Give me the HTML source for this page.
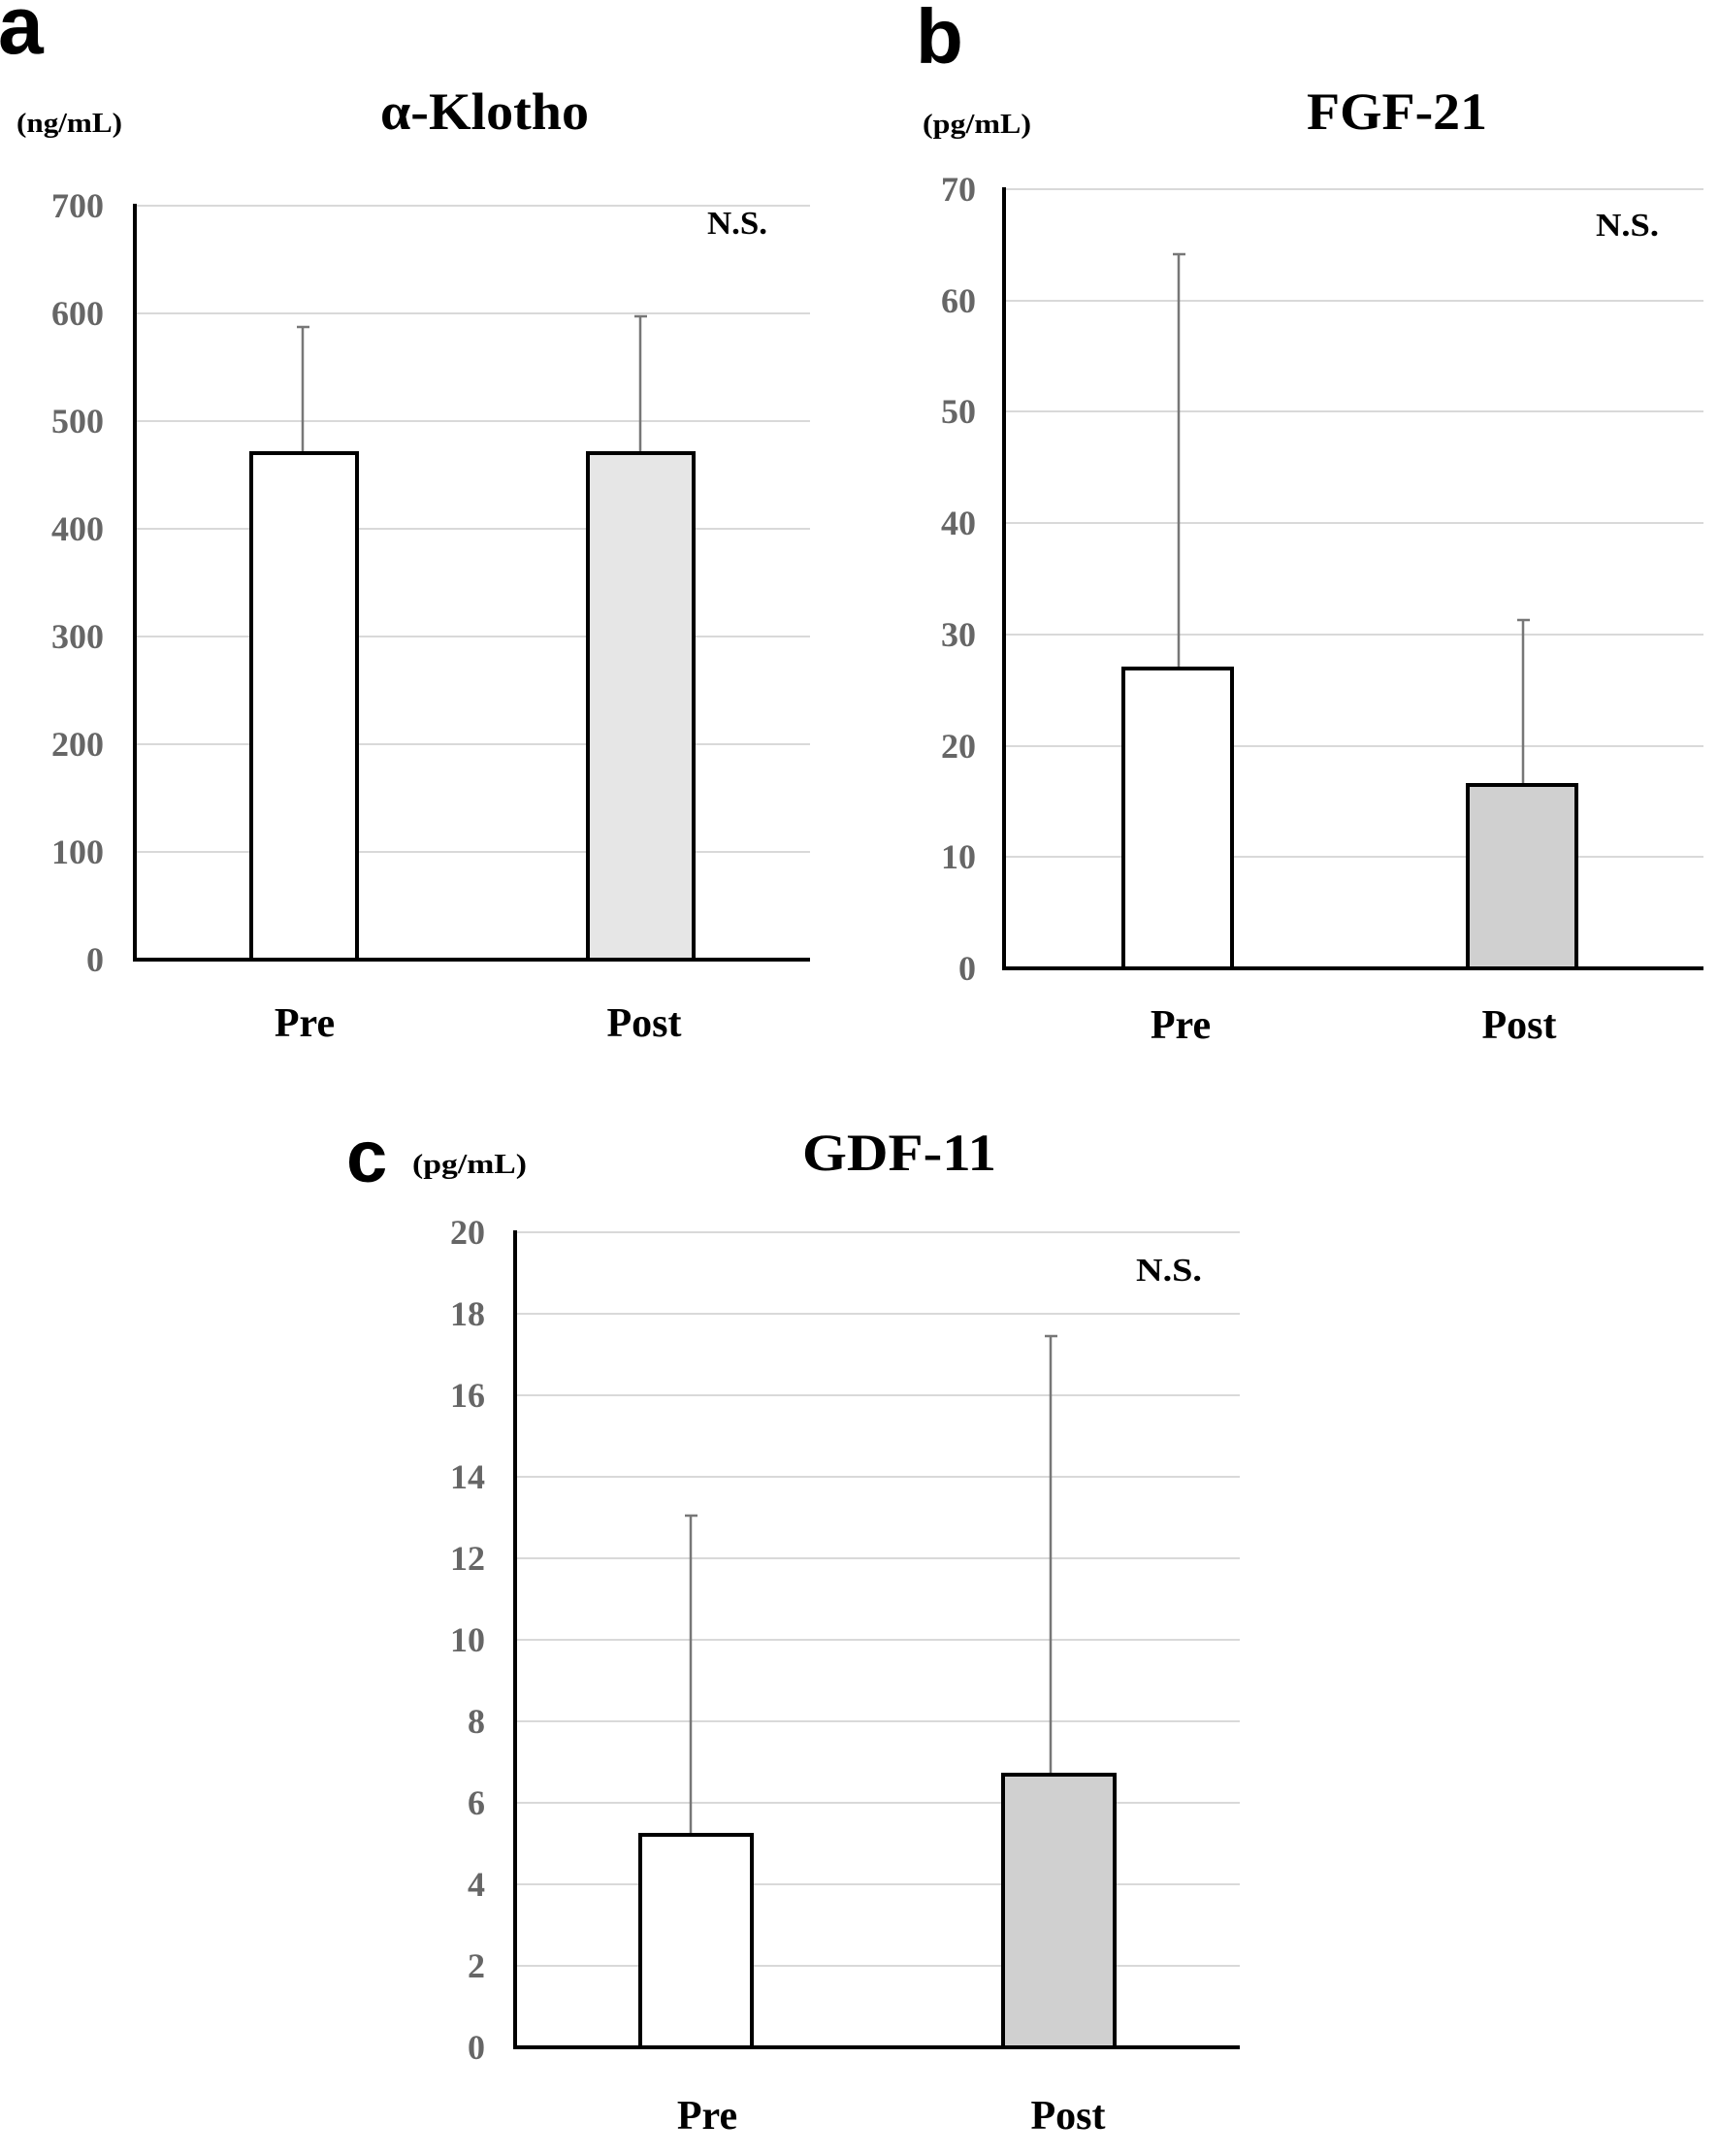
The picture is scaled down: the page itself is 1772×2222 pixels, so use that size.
<!DOCTYPE html>
<html><head><meta charset="utf-8"><style>
html,body{margin:0;padding:0;background:#fff;}
svg{display:block;}
.t{font-family:"Liberation Serif",serif;font-weight:bold;}
.tick{font-family:"Liberation Serif",serif;font-weight:bold;font-size:36px;fill:#666;text-anchor:end;}
.lab{font-family:"Liberation Sans",sans-serif;font-weight:bold;}
</style></head><body>
<svg width="1772" height="2222" viewBox="0 0 1772 2222" xmlns="http://www.w3.org/2000/svg">
<rect width="1772" height="2222" fill="#fff"/>
<!-- Panel a -->
<text class="lab" x="-2" y="55" font-size="84">a</text>
<text class="t" x="17" y="136" font-size="28" textLength="109" lengthAdjust="spacingAndGlyphs">(ng/mL)</text>
<text class="t" x="392" y="133" font-size="54" textLength="215" lengthAdjust="spacingAndGlyphs">α-Klotho</text>
<g stroke="#d9d9d9" stroke-width="2">
<line x1="139" x2="835" y1="212" y2="212"/><line x1="139" x2="835" y1="323" y2="323"/>
<line x1="139" x2="835" y1="434" y2="434"/><line x1="139" x2="835" y1="545" y2="545"/>
<line x1="139" x2="835" y1="656" y2="656"/><line x1="139" x2="835" y1="767" y2="767"/>
<line x1="139" x2="835" y1="878" y2="878"/>
</g>
<g class="tick">
<text x="107" y="224">700</text><text x="107" y="335">600</text><text x="107" y="446">500</text>
<text x="107" y="557">400</text><text x="107" y="668">300</text><text x="107" y="779">200</text>
<text x="107" y="890">100</text><text x="107" y="1001">0</text>
</g>
<g stroke="#777" stroke-width="2.5">
<line x1="312" x2="312" y1="337" y2="467"/><line x1="306" x2="319" y1="337" y2="337"/>
<line x1="660" x2="660" y1="326" y2="467"/><line x1="654" x2="667" y1="326" y2="326"/>
</g>
<rect x="259" y="467" width="109" height="522" fill="#fff" stroke="#000" stroke-width="4"/>
<rect x="606" y="467" width="109" height="522" fill="#e6e6e6" stroke="#000" stroke-width="4"/>
<polyline points="139,210 139,989 835,989" fill="none" stroke="#000" stroke-width="4"/>
<text class="t" x="729" y="241" font-size="34" textLength="62" lengthAdjust="spacingAndGlyphs">N.S.</text>
<text class="t" x="314" y="1068" font-size="42" text-anchor="middle">Pre</text>
<text class="t" x="664" y="1068" font-size="42" text-anchor="middle">Post</text>

<!-- Panel b -->
<text class="lab" x="944" y="65" font-size="80">b</text>
<text class="t" x="951" y="137" font-size="28" textLength="112" lengthAdjust="spacingAndGlyphs">(pg/mL)</text>
<text class="t" x="1347" y="133" font-size="54" textLength="186" lengthAdjust="spacingAndGlyphs">FGF-21</text>
<g stroke="#d9d9d9" stroke-width="2">
<line x1="1035" x2="1756" y1="195" y2="195"/><line x1="1035" x2="1756" y1="310" y2="310"/>
<line x1="1035" x2="1756" y1="424" y2="424"/><line x1="1035" x2="1756" y1="539" y2="539"/>
<line x1="1035" x2="1756" y1="654" y2="654"/><line x1="1035" x2="1756" y1="769" y2="769"/>
<line x1="1035" x2="1756" y1="883" y2="883"/>
</g>
<g class="tick">
<text x="1006" y="207">70</text><text x="1006" y="322">60</text><text x="1006" y="436">50</text>
<text x="1006" y="551">40</text><text x="1006" y="666">30</text><text x="1006" y="781">20</text>
<text x="1006" y="895">10</text><text x="1006" y="1010">0</text>
</g>
<g stroke="#777" stroke-width="2.5">
<line x1="1215" x2="1215" y1="262" y2="689"/><line x1="1209" x2="1222" y1="262" y2="262"/>
<line x1="1570" x2="1570" y1="639" y2="809"/><line x1="1564" x2="1577" y1="639" y2="639"/>
</g>
<rect x="1158" y="689" width="112" height="309" fill="#fff" stroke="#000" stroke-width="4"/>
<rect x="1513" y="809" width="112" height="189" fill="#d0d0d0" stroke="#000" stroke-width="4"/>
<polyline points="1035,193 1035,998 1756,998" fill="none" stroke="#000" stroke-width="4"/>
<text class="t" x="1645" y="243" font-size="34" textLength="65" lengthAdjust="spacingAndGlyphs">N.S.</text>
<text class="t" x="1217" y="1070" font-size="42" text-anchor="middle">Pre</text>
<text class="t" x="1566" y="1070" font-size="42" text-anchor="middle">Post</text>

<!-- Panel c -->
<text class="lab" x="357" y="1218" font-size="76">c</text>
<text class="t" x="425" y="1209" font-size="28" textLength="118" lengthAdjust="spacingAndGlyphs">(pg/mL)</text>
<text class="t" x="827" y="1206" font-size="54" textLength="200" lengthAdjust="spacingAndGlyphs">GDF-11</text>
<g stroke="#d9d9d9" stroke-width="2">
<line x1="531" x2="1278" y1="1270" y2="1270"/><line x1="531" x2="1278" y1="1354" y2="1354"/>
<line x1="531" x2="1278" y1="1438" y2="1438"/><line x1="531" x2="1278" y1="1522" y2="1522"/>
<line x1="531" x2="1278" y1="1606" y2="1606"/><line x1="531" x2="1278" y1="1690" y2="1690"/>
<line x1="531" x2="1278" y1="1774" y2="1774"/><line x1="531" x2="1278" y1="1858" y2="1858"/>
<line x1="531" x2="1278" y1="1942" y2="1942"/><line x1="531" x2="1278" y1="2026" y2="2026"/>
</g>
<g class="tick">
<text x="500" y="1282">20</text><text x="500" y="1366">18</text><text x="500" y="1450">16</text>
<text x="500" y="1534">14</text><text x="500" y="1618">12</text><text x="500" y="1702">10</text>
<text x="500" y="1786">8</text><text x="500" y="1870">6</text><text x="500" y="1954">4</text>
<text x="500" y="2038">2</text><text x="500" y="2122">0</text>
</g>
<g stroke="#777" stroke-width="2.5">
<line x1="712" x2="712" y1="1562" y2="1891"/><line x1="706" x2="719" y1="1562" y2="1562"/>
<line x1="1083" x2="1083" y1="1377" y2="1829"/><line x1="1077" x2="1090" y1="1377" y2="1377"/>
</g>
<rect x="660" y="1891" width="115" height="219" fill="#fff" stroke="#000" stroke-width="4"/>
<rect x="1034" y="1829" width="115" height="281" fill="#d0d0d0" stroke="#000" stroke-width="4"/>
<polyline points="531,1268 531,2110 1278,2110" fill="none" stroke="#000" stroke-width="4"/>
<text class="t" x="1171" y="1320" font-size="34" textLength="68" lengthAdjust="spacingAndGlyphs">N.S.</text>
<text class="t" x="729" y="2194" font-size="42" text-anchor="middle">Pre</text>
<text class="t" x="1101" y="2194" font-size="42" text-anchor="middle">Post</text>
</svg>
</body></html>
